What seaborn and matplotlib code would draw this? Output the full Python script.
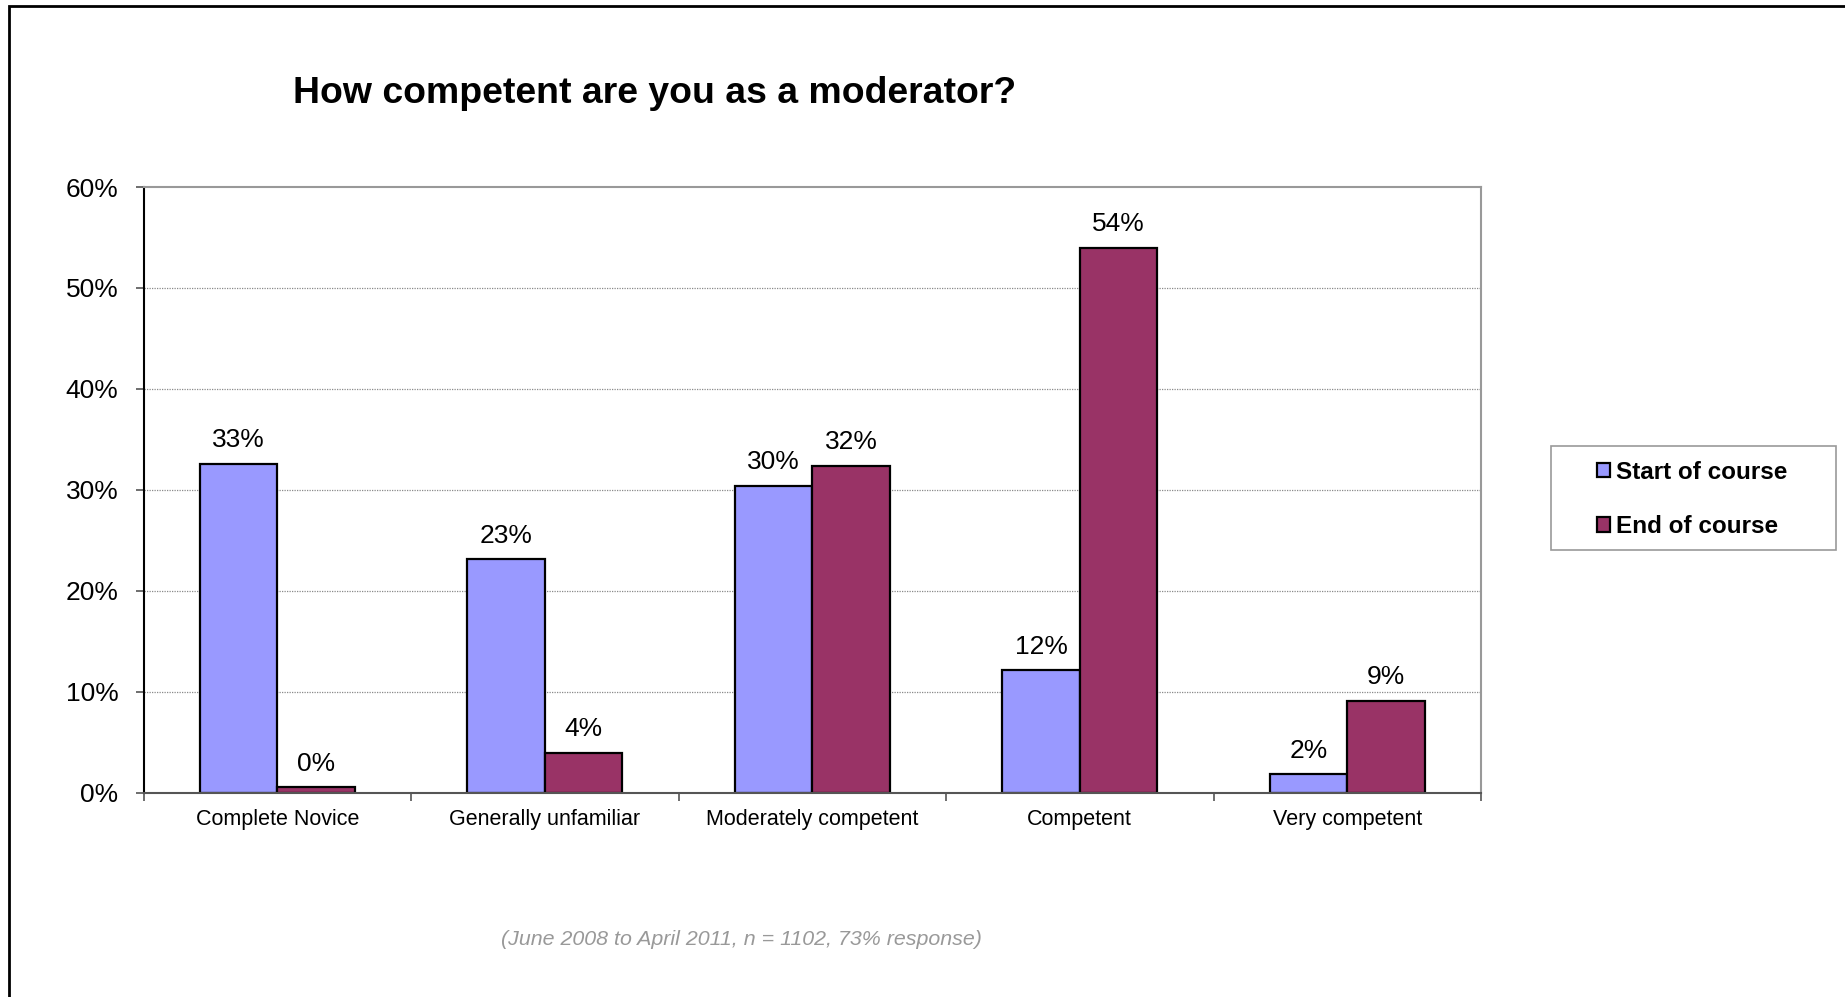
import matplotlib
matplotlib.use("Agg")
import matplotlib.pyplot as plt
import seaborn as sns
import pandas as pd
import numpy as np
from matplotlib.patches import Rectangle, Patch
from matplotlib.ticker import FixedLocator, PercentFormatter

categories = ["Complete Novice", "Generally unfamiliar", "Moderately competent", "Competent", "Very competent"]
start_vals = [32.6, 23.1, 30.4, 12.1, 1.8]
end_vals = [0.5, 3.9, 32.4, 54.0, 9.1]
start_labels = ["33%", "23%", "30%", "12%", "2%"]
end_labels = ["0%", "4%", "32%", "54%", "9%"]
series = ["Start of course", "End of course"]
colors = ["#9999FF", "#993366"]

sns.set_theme(style="white")
plt.rcParams['font.family'] = ['Liberation Sans', 'DejaVu Sans']
plt.rcParams['text.color'] = 'black'

df = pd.DataFrame({
    "category": categories * 2,
    "value": start_vals + end_vals,
    "series": [series[0]] * len(categories) + [series[1]] * len(categories),
})

fig = plt.figure(figsize=(18.45, 9.97), dpi=100)
ax = fig.add_axes([143.5 / 1845, 1 - 792.5 / 997, (1481 - 143.5) / 1845, (792.5 - 187) / 997])

sns.barplot(data=df, x="category", y="value", hue="series", order=categories,
            hue_order=series, palette=colors, width=0.58, gap=0,
            edgecolor="black", linewidth=1.6, ax=ax, legend=False, saturation=1)

ax.set_ylim(0, 60)
ax.set_xlim(-0.5, len(categories) - 0.5)
ax.set_yticks(np.arange(0, 61, 10))
ax.yaxis.set_major_formatter(PercentFormatter(decimals=0))
ax.set_xlabel("")
ax.set_ylabel("")

for y in range(10, 60, 10):
    ax.axhline(y, color="#8a8a8a", lw=0.9, ls=(0, (1, 1)), zorder=0)

# spines
ax.spines["left"].set_color("black")
ax.spines["left"].set_linewidth(1.5)
ax.spines["bottom"].set_color("#555555")
ax.spines["bottom"].set_linewidth(1.5)
for s in ["top", "right"]:
    ax.spines[s].set_color("#999999")
    ax.spines[s].set_linewidth(1.5)

ax.tick_params(axis="y", which="major", length=6, width=1.2, color="#555555",
               direction="out", left=True, labelsize=19, pad=12, labelcolor="black")
ax.tick_params(axis="x", which="major", length=0, labelsize=15.5, pad=12, labelcolor="black")
ax.xaxis.set_minor_locator(FixedLocator(np.arange(-0.5, len(categories), 1.0)))
ax.tick_params(axis="x", which="minor", length=6, width=1.2, color="#555555",
               direction="out", bottom=True)

# data labels
containers = ax.containers
for cont, labels in zip(containers, [start_labels, end_labels]):
    for bar, lab in zip(cont, labels):
        ax.annotate(lab, (bar.get_x() + bar.get_width() / 2, bar.get_height()),
                    xytext=(0, 8.5), textcoords="offset points",
                    ha="center", va="bottom", fontsize=19, color="black")

# title
fig.text(655 / 1845, 1 - 93.5 / 997, "How competent are you as a moderator?",
         ha="center", va="center", fontsize=26.9, fontweight="bold", color="black")

# footnote
fig.text(741 / 1845, 1 - 939 / 997, "(June 2008 to April 2011, n = 1102, 73% response)",
         ha="center", va="center", fontsize=15.4, style="italic", color="#999999")

# legend box
fig.patches.append(Rectangle((1551 / 1845, 1 - 550 / 997), (1836 - 1551) / 1845, (550 - 446) / 997,
                             transform=fig.transFigure, fill=False, edgecolor="#999999", lw=1.2))
handles = [Patch(facecolor=c, edgecolor="black", lw=1.6) for c in colors]
leg = fig.legend(handles, series, loc="center left",
                 bbox_to_anchor=(1597 / 1845, 1 - 499.5 / 997), frameon=False,
                 prop={"size": 17.5, "weight": "bold"}, handlelength=0.55, handleheight=0.55,
                 handletextpad=0.25, labelspacing=1.3, borderaxespad=0, borderpad=0)
for t in leg.get_texts():
    t.set_color("black")

# figure frame
fig.patches.append(Rectangle((9 / 1845, -0.1), 1.2, 1 - 6 / 997 + 0.1,
                             transform=fig.transFigure, fill=False, edgecolor="black", lw=2))

fig.savefig("out.png", dpi=100)
